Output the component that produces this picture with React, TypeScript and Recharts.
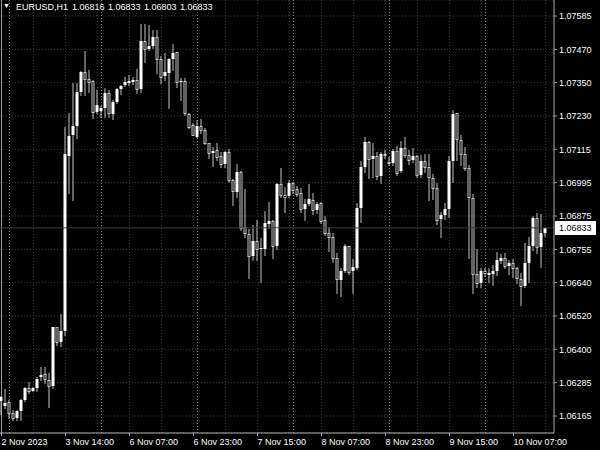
import React from 'react';
import { ComposedChart, Bar, XAxis, YAxis, CartesianGrid, ReferenceLine } from 'recharts';

const symbol = 'EURUSD,H1';

const opens = [
  1.06218, 1.06202, 1.06216, 1.06177, 1.06159, 1.06183, 1.06222, 1.06263, 1.06255, 1.06263,
  1.06302, 1.06313, 1.06293, 1.06272, 1.06480, 1.06429, 1.06468, 1.07089, 1.07163, 1.07195,
  1.07316, 1.07387, 1.07360, 1.07354, 1.07243, 1.07248, 1.07257, 1.07313, 1.07237, 1.07281,
  1.07325, 1.07340, 1.07348, 1.07351, 1.07358, 1.07326, 1.07497, 1.07467, 1.07478, 1.07512,
  1.07431, 1.07372, 1.07384, 1.07431, 1.07456, 1.07352, 1.07354, 1.07236, 1.07198, 1.07157,
  1.07195, 1.07180, 1.07133, 1.07098, 1.07109, 1.07088, 1.07060, 1.07101, 1.07003, 1.06961,
  1.07032, 1.06835, 1.06811, 1.06734, 1.06786, 1.06757, 1.06757, 1.06847, 1.06857, 1.06770,
  1.06989, 1.06950, 1.06946, 1.06993, 1.06970, 1.06956, 1.06900, 1.06917, 1.06932, 1.06896,
  1.06920, 1.06861, 1.06814, 1.06799, 1.06725, 1.06648, 1.06681, 1.06768, 1.06681, 1.06689,
  1.06902, 1.07048, 1.07139, 1.07076, 1.07088, 1.07017, 1.07095, 1.07068, 1.07064, 1.07107,
  1.07036, 1.07118, 1.07092, 1.07074, 1.07088, 1.07021, 1.07071, 1.07048, 1.07009, 1.06973,
  1.06864, 1.06879, 1.06899, 1.07071, 1.07240, 1.07145, 1.07095, 1.07044, 1.06938, 1.06669,
  1.06638, 1.06678, 1.06666, 1.06669, 1.06681, 1.06716, 1.06725, 1.06699, 1.06709, 1.06689,
  1.06650, 1.06628, 1.06709, 1.06768, 1.06867, 1.06766, 1.06816,
];
const highs = [
  1.06236, 1.06260, 1.06222, 1.06186, 1.06186, 1.06225, 1.06267, 1.06287, 1.06269, 1.06305,
  1.06338, 1.06338, 1.06317, 1.06482, 1.06482, 1.06527, 1.07190, 1.07240, 1.07346, 1.07346,
  1.07390, 1.07461, 1.07393, 1.07358, 1.07322, 1.07266, 1.07328, 1.07322, 1.07287, 1.07328,
  1.07340, 1.07369, 1.07376, 1.07367, 1.07396, 1.07557, 1.07557, 1.07553, 1.07535, 1.07535,
  1.07443, 1.07453, 1.07435, 1.07486, 1.07458, 1.07364, 1.07364, 1.07240, 1.07204, 1.07216,
  1.07219, 1.07186, 1.07135, 1.07119, 1.07133, 1.07103, 1.07106, 1.07112, 1.07005, 1.07060,
  1.07036, 1.06970, 1.06828, 1.06843, 1.06861, 1.06796, 1.06893, 1.06924, 1.06861, 1.06993,
  1.07044, 1.06979, 1.07003, 1.06997, 1.06983, 1.06973, 1.06935, 1.06989, 1.06956, 1.06926,
  1.06926, 1.06875, 1.06837, 1.06814, 1.06743, 1.06689, 1.06776, 1.06768, 1.06721, 1.06920,
  1.07071, 1.07157, 1.07142, 1.07135, 1.07103, 1.07103, 1.07109, 1.07084, 1.07112, 1.07124,
  1.07142, 1.07154, 1.07109, 1.07115, 1.07092, 1.07092, 1.07095, 1.07094, 1.07024, 1.06993,
  1.06890, 1.06922, 1.07088, 1.07251, 1.07242, 1.07163, 1.07121, 1.07056, 1.06953, 1.06757,
  1.06689, 1.06690, 1.06689, 1.06701, 1.06748, 1.06739, 1.06743, 1.06719, 1.06721, 1.06695,
  1.06672, 1.06780, 1.06799, 1.06875, 1.06887, 1.06881, 1.06833,
];
const lows = [
  1.06172, 1.06192, 1.06158, 1.06151, 1.06151, 1.06151, 1.06219, 1.06246, 1.06252, 1.06252,
  1.06293, 1.06281, 1.06198, 1.06263, 1.06417, 1.06414, 1.06453, 1.06956, 1.06932, 1.07151,
  1.07305, 1.07305, 1.07316, 1.07222, 1.07240, 1.07225, 1.07228, 1.07225, 1.07219, 1.07275,
  1.07308, 1.07336, 1.07340, 1.07344, 1.07313, 1.07316, 1.07423, 1.07464, 1.07470, 1.07382,
  1.07346, 1.07358, 1.07257, 1.07393, 1.07334, 1.07287, 1.07234, 1.07186, 1.07163, 1.07157,
  1.07169, 1.07131, 1.07080, 1.07054, 1.07074, 1.07050, 1.07050, 1.06997, 1.06914, 1.06944,
  1.06825, 1.06802, 1.06654, 1.06719, 1.06719, 1.06640, 1.06737, 1.06831, 1.06725, 1.06757,
  1.06941, 1.06890, 1.06944, 1.06956, 1.06946, 1.06890, 1.06861, 1.06914, 1.06881, 1.06885,
  1.06849, 1.06808, 1.06751, 1.06713, 1.06601, 1.06591, 1.06677, 1.06669, 1.06601, 1.06686,
  1.06855, 1.07032, 1.07009, 1.07015, 1.07005, 1.06993, 1.07080, 1.07056, 1.07056, 1.07021,
  1.07032, 1.07086, 1.07060, 1.07068, 1.07015, 1.07012, 1.07032, 1.06932, 1.06935, 1.06847,
  1.06799, 1.06863, 1.06872, 1.06997, 1.07074, 1.07056, 1.07038, 1.06725, 1.06601, 1.06624,
  1.06624, 1.06662, 1.06642, 1.06630, 1.06666, 1.06707, 1.06689, 1.06669, 1.06657, 1.06636,
  1.06559, 1.06624, 1.06642, 1.06754, 1.06743, 1.06695, 1.06803,
];
const closes = [
  1.06232, 1.06210, 1.06175, 1.06159, 1.06183, 1.06222, 1.06263, 1.06255, 1.06264, 1.06296,
  1.06311, 1.06295, 1.06272, 1.06480, 1.06429, 1.06468, 1.07094, 1.07159, 1.07195, 1.07316,
  1.07387, 1.07360, 1.07352, 1.07243, 1.07269, 1.07257, 1.07311, 1.07240, 1.07281, 1.07325,
  1.07336, 1.07352, 1.07355, 1.07358, 1.07326, 1.07497, 1.07467, 1.07478, 1.07512, 1.07431,
  1.07370, 1.07387, 1.07431, 1.07455, 1.07352, 1.07354, 1.07240, 1.07192, 1.07163, 1.07195,
  1.07180, 1.07135, 1.07100, 1.07107, 1.07086, 1.07060, 1.07101, 1.07003, 1.06965, 1.07032,
  1.06831, 1.06814, 1.06734, 1.06786, 1.06757, 1.06762, 1.06849, 1.06857, 1.06770, 1.06989,
  1.06950, 1.06944, 1.06991, 1.06967, 1.06953, 1.06899, 1.06918, 1.06934, 1.06896, 1.06918,
  1.06857, 1.06814, 1.06799, 1.06725, 1.06650, 1.06681, 1.06768, 1.06677, 1.06693, 1.06902,
  1.07048, 1.07139, 1.07076, 1.07088, 1.07017, 1.07095, 1.07092, 1.07064, 1.07107, 1.07027,
  1.07118, 1.07092, 1.07074, 1.07088, 1.07021, 1.07071, 1.07048, 1.07012, 1.06973, 1.06861,
  1.06879, 1.06899, 1.07071, 1.07237, 1.07147, 1.07095, 1.07044, 1.06941, 1.06669, 1.06636,
  1.06681, 1.06672, 1.06672, 1.06681, 1.06719, 1.06725, 1.06698, 1.06709, 1.06689, 1.06654,
  1.06627, 1.06709, 1.06768, 1.06867, 1.06766, 1.06814, 1.06833,
];

const timeLabels = ['2 Nov 2023', '3 Nov 14:00', '6 Nov 07:00', '6 Nov 23:00', '7 Nov 15:00', '8 Nov 07:00', '8 Nov 23:00', '9 Nov 15:00', '10 Nov 07:00'];
const timeLabelBars = [0, 16, 32, 48, 64, 80, 96, 112, 128];
const gridBars = [8, 16, 24, 32, 40, 48, 56, 64, 72, 80, 88, 96, 104, 112, 120, 128, 136];
const daySeparatorBars = [2, 25, 49, 73, 97, 121];
const priceLabels = ['1.07585', '1.07470', '1.07350', '1.07230', '1.07115', '1.06995', '1.06875', '1.06755', '1.06640', '1.06520', '1.06400', '1.06285', '1.06165'];

const last = opens.length - 1;
const lastPrice = closes[last];

const data = opens.map((o, i) => ({ i, o, h: highs[i], l: lows[i], c: closes[i], range: [lows[i], highs[i]] }));

// layout
const W = 600, H = 450;
const AXIS_W = 46, AXIS_H = 17;
const PLOT_H = H - AXIS_H;
const X_DOMAIN: [number, number] = [-0.375, 138.125];
const topLabel = Number(priceLabels[0]);
const botLabel = Number(priceLabels[priceLabels.length - 1]);
const pxPerUnit = 400 / (topLabel - botLabel);
const yMax = topLabel + 16 / pxPerUnit;
const yMin = botLabel - (PLOT_H - 416) / pxPerUnit;
const priceStep = (topLabel - botLabel) / (priceLabels.length - 1);
const priceTicks = priceLabels.map((_, k) => topLabel - k * priceStep);

const FONT = "'Liberation Sans', Arial, sans-serif";
const WICK = '#c4c4c4';
const GRID = '#3a3a3a';
const SEP = '#8a8a8a';

function barsToPixels(bars: number[]) {
  return (args: any) => {
    const xAxis = args && args.xAxis;
    const off = (args && args.offset) || { left: 0, width: W - AXIS_W };
    if (xAxis && typeof xAxis.scale === 'function') {
      return bars.map((b) => xAxis.scale(b));
    }
    const span = X_DOMAIN[1] - X_DOMAIN[0];
    return bars.map((b) => off.left + ((b - X_DOMAIN[0]) / span) * off.width);
  };
}

function Candle(props: any) {
  const { x, y, width, height, payload } = props;
  if (x == null || !payload) return null;
  const { o, h, l, c } = payload;
  const ppu = h > l ? height / (h - l) : 0;
  const yO = y + (h - o) * ppu;
  const yC = y + (h - c) * ppu;
  const cx = x + width / 2;
  const top = Math.round(Math.min(yO, yC));
  const bot = Math.round(Math.max(yO, yC));
  const bull = c >= o;
  return (
    <g>
      <line x1={cx} x2={cx} y1={Math.round(y)} y2={Math.round(y + height) + 1} stroke={WICK} strokeWidth={1} />
      {bull ? (
        <rect x={x} y={top} width={width} height={Math.max(1, bot - top)} fill="#ffffff" />
      ) : (
        <rect x={x + 0.5} y={top + 0.5} width={width - 1} height={Math.max(1, bot - top)} fill="#000000" stroke={WICK} strokeWidth={1} />
      )}
    </g>
  );
}

function TimeTick(props: any) {
  const { x, payload } = props;
  const idx = timeLabelBars.indexOf(payload.value);
  return (
    <text x={x} y={445} fill="#ffffff" fontSize={9} fontFamily={FONT} textAnchor="start">
      {timeLabels[idx]}
    </text>
  );
}

function PriceTick(props: any) {
  const { y, index } = props;
  return (
    <text x={559} y={y + 3.3} fill="#ffffff" fontSize={9} fontFamily={FONT} textAnchor="start">
      {priceLabels[index]}
    </text>
  );
}

function PriceBox(props: any) {
  const vb = props.viewBox || {};
  const yy = vb.y;
  if (yy == null) return null;
  return (
    <g>
      <rect x={555} y={Math.round(yy) - 7} width={41} height={14} fill="#ffffff" />
      <text x={559} y={Math.round(yy) + 3.3} fill="#000000" fontSize={9} fontFamily={FONT}>
        {lastPrice.toFixed(5)}
      </text>
    </g>
  );
}

export default function App() {
  return (
    <div style={{ position: 'absolute', left: 0, top: 0, width: W, height: H, background: '#000', overflow: 'hidden' }}>
      <ComposedChart width={W} height={H} data={data} margin={{ top: 0, right: 0, bottom: 0, left: 0 }}>
        <CartesianGrid horizontal vertical={false} stroke={GRID} strokeDasharray="1 2" />
        <CartesianGrid horizontal={false} vertical verticalCoordinatesGenerator={barsToPixels(gridBars)} stroke={GRID} strokeDasharray="1 2" />
        <CartesianGrid horizontal={false} vertical verticalCoordinatesGenerator={barsToPixels(daySeparatorBars)} stroke={SEP} strokeDasharray="1 2" />
        <CartesianGrid horizontal={false} vertical verticalCoordinatesGenerator={barsToPixels([0])} stroke="#9a9a9a" />
        <XAxis
          type="number"
          dataKey="i"
          domain={X_DOMAIN}
          allowDataOverflow
          ticks={timeLabelBars}
          interval={0}
          height={AXIS_H}
          tick={<TimeTick />}
          tickSize={3}
          tickLine={{ stroke: '#a0a0a0' }}
          axisLine={{ stroke: '#b0b0b0' }}
        />
        <YAxis
          orientation="right"
          type="number"
          domain={[yMin, yMax]}
          allowDataOverflow
          ticks={priceTicks}
          interval={0}
          width={AXIS_W}
          tick={<PriceTick />}
          tickSize={3}
          tickLine={{ stroke: '#a0a0a0' }}
          axisLine={{ stroke: '#b0b0b0' }}
        />
        <ReferenceLine y={lastPrice} stroke="#3a3a3a" label={<PriceBox />} />
        <Bar dataKey="range" barSize={3} shape={<Candle />} isAnimationActive={false} />
      </ComposedChart>
      <div style={{ position: 'absolute', left: 0, top: 0, width: 230, height: 16, color: '#fff', fontFamily: FONT, fontSize: 9 }}>
        <span style={{ position: 'absolute', left: 3, top: 2, fontSize: 7 }}>▼</span>
        <span style={{ position: 'absolute', left: 16, top: 2 }}>{symbol}</span>
        <span style={{ position: 'absolute', left: 72, top: 2 }}>{opens[last].toFixed(5)}</span>
        <span style={{ position: 'absolute', left: 108, top: 2 }}>{highs[last].toFixed(5)}</span>
        <span style={{ position: 'absolute', left: 144, top: 2 }}>{lows[last].toFixed(5)}</span>
        <span style={{ position: 'absolute', left: 180, top: 2 }}>{closes[last].toFixed(5)}</span>
      </div>
    </div>
  );
}
